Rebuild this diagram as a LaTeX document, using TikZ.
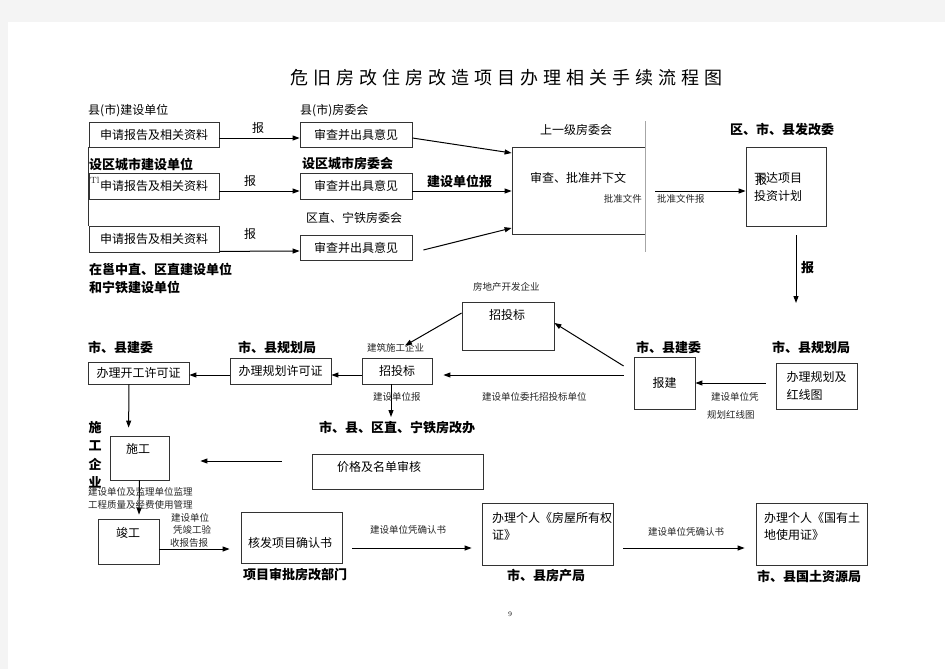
\documentclass[tikz,border=0pt]{standalone}
\usepackage{fontspec}
\newfontfamily\cjk{Noto Sans CJK SC}
\usetikzlibrary{arrows.meta}
\definecolor{pagebg}{HTML}{F4F4F4}

\tikzset{
  box/.style={draw=black!80, line width=0.8pt, inner sep=0pt, align=left, font=\cjk\fontsize{12}{18}\selectfont},
  tag/.style={inner sep=0pt, anchor=west, font=\cjk\fontsize{12}{14}\selectfont},
  lbl/.style={inner sep=0pt, anchor=west, font=\cjk\bfseries\fontsize{13}{15}\selectfont},
  note/.style={inner sep=0pt, anchor=west, text=black!85, font=\cjk\fontsize{9.5}{11}\selectfont},
  arr/.style={-{Triangle[length=7pt,width=5pt]}, line width=1pt},
}

\begin{document}
\begin{tikzpicture}[x=1pt,y=-1pt]
            % Page and margins
            \fill[pagebg] (0,0) rectangle (945,669);
            \fill[white] (8,22) rectangle (945,669);
            \useasboundingbox (0,0) rectangle (945,669);

            % Title
            \node[inner sep=0pt, anchor=west, font={\cjk\fontsize{18}{20}\selectfont\addfontfeature{LetterSpace=28}}] (title) at (290,78) {危旧房改住房改造项目办理相关手续流程图};

            % Three applicants and their housing committees
            \node[tag] (unit1) at (88,111) {县(市)建设单位};
            \node[box, minimum width=130, minimum height=25] (apply1) at (154,134.5) {申请报告及相关资料};
            \node[tag] (comm1) at (300,111) {县(市)房委会};
            \node[box, minimum width=112, minimum height=25] (check1) at (356,134.5) {审查并出具意见};

            \node[lbl] (unit2) at (89,164) {设区城市建设单位};
            \node[box, minimum width=130, minimum height=26] (apply2) at (154,186) {申请报告及相关资料};
            \node[note, font=\fontsize{9}{10}\selectfont] (tl) at (90,180) {Tl};
            \node[lbl] (comm2) at (302,164) {设区城市房委会};
            \node[box, minimum width=112, minimum height=26] (check2) at (356,186) {审查并出具意见};

            \node[box, minimum width=130, minimum height=26] (apply3) at (154,239) {申请报告及相关资料};
            \node[tag] (comm3) at (306,218) {区直、宁铁房委会};
            \node[box, minimum width=112, minimum height=25] (check3) at (356,247.5) {审查并出具意见};
            \node[lbl] (unit3a) at (89,269) {在邕中直、区直建设单位};
            \node[lbl] (unit3b) at (89,287) {和宁铁建设单位};

            \draw[black!80, line width=0.8pt] (apply1.south west) -- (apply3.north west);

            \draw[arr] ([yshift=-3.5]apply1.east) -- ([yshift=-3.5]check1.west);
            \draw[arr] ([yshift=-5]apply2.east) -- ([yshift=-5]check2.west);
            \draw[arr] ([yshift=1]apply3.south east) -- ([yshift=-3.5]check3.west);
            \node[tag, anchor=center] (bao1) at (258,128) {报};
            \node[tag, anchor=center] (bao2) at (250,181) {报};
            \node[tag, anchor=center] (bao3) at (250,234) {报};

            % Upper committee
            \node[tag] (upper) at (540,130) {上一级房委会};
            \node[box, minimum width=133, minimum height=87] (approve) at (578.5,190.5) {};
            \node[tag, anchor=center] (approvet) at (578,178) {审查、批准并下文};
            \coordinate (g1) at (645,121);
            \coordinate (g2) at (645,252);
            \draw[gray!70, line width=0.8pt] (g1) -- (g2);
            \node[note, anchor=east] (doc1) at (642,199) {批准文件};

            \draw[arr] ([yshift=-3.5]check1.east) -- ([yshift=37.5]approve.west);
            \draw[arr] ([yshift=-5]check2.east) -- ([yshift=-0.5]approve.west);
            \draw[arr] ([xshift=11,yshift=-2.5]check3.east) -- ([yshift=-37.5]approve.west);
            \node[lbl] (jsb) at (427,181) {建设单位报};

            % Development and reform commission
            \node[lbl] (fgwl) at (730,130) {区、市、县发改委};
            \node[box, minimum width=80, minimum height=79] (plan) at (786,186.5) {};
            \node[tag] (plant1) at (754,178) {下达项目};
            \node[tag] (plant2) at (754,196) {投资计划};
            \node[tag, anchor=center] (planbao) at (761,180) {报};
            \draw[arr] ([xshift=10,yshift=-0.5]approve.east) -- ([yshift=-4.5]plan.west);
            \node[note] (doc2) at (657,199) {批准文件报};

            \coordinate (planend) at (796,303);
            \draw[arr] ([xshift=10,yshift=-9]plan.south) -- (planend);
            \node[lbl] (bao4) at (801,268) {报};

            % Planning, registration and tendering
            \node[lbl] (ghj1) at (772,347) {市、县规划局};
            \node[box, minimum width=81, minimum height=46] (redline) at (816.5,386) {办理规划及\\红线图};
            \node[lbl] (jw1) at (636,347) {市、县建委};
            \node[box, minimum width=61, minimum height=52] (baojian) at (664.5,383) {报建};
            \draw[arr] ([xshift=-10,yshift=3]redline.west) -- (baojian.east);
            \node[note] (n1) at (711,397) {建设单位凭};
            \node[note] (n2) at (707,415) {规划红线图};

            \node[note] (dev) at (473,287) {房地产开发企业};
            \node[box, minimum width=92, minimum height=48] (tenderA) at (508,326) {};
            \node[tag, anchor=center] (tenderAt) at (507,315) {招投标};
            \node[box, minimum width=70, minimum height=26] (tenderB) at (397,371) {招投标};
            \node[note] (builder) at (367,348) {建筑施工企业};

            \draw[arr] ([xshift=-10,yshift=17]baojian.west) -- ([yshift=3]tenderA.east);
            \draw[arr] ([xshift=-10,yshift=8]baojian.west) -- ([xshift=11,yshift=-4]tenderB.east);
            \node[note] (n3) at (482,397) {建设单位委托招投标单位};
            \draw[arr] ([yshift=13]tenderA.west) -- ([xshift=8,yshift=12]tenderB.north);

            \node[lbl] (ghj2) at (238,347) {市、县规划局};
            \node[box, minimum width=101, minimum height=26] (permitA) at (280.5,371) {办理规划许可证};
            \node[lbl] (jw2) at (88,347) {市、县建委};
            \node[box, minimum width=101, minimum height=22] (permitB) at (138.5,373) {办理开工许可证};
            \draw[arr] ([yshift=-4]tenderB.west) -- ([yshift=-4]permitA.east);
            \draw[arr] ([yshift=-4]permitA.west) -- ([yshift=-2]permitB.east);

            \coordinate (tenderend) at (391,417);
            \draw[arr] ([xshift=-6]tenderB.south) -- (tenderend);
            \node[note] (n4) at (373,397) {建设单位报};
            \node[lbl] (fgb) at (319,428) {市、县、区直、宁铁房改办};

            % Construction and completion
            \foreach \c [count=\i from 0] in {施,工,企,业}
              \node[lbl, anchor=center] (sgqy\i) at (95,428+18*\i) {\c};
            \node[box, minimum width=59, minimum height=44] (build) at (139.5,458) {};
            \node[tag, anchor=center] (buildt) at (138,449) {施工};
            \draw[arr] ([xshift=-9.5]permitB.south) -- ([xshift=19,yshift=8]build.north west);

            \node[box, minimum width=171, minimum height=35] (price) at (397.5,471.5) {};
            \node[tag, anchor=center] (pricet) at (379,467) {价格及名单审核};
            \draw[arr] ([xshift=-30,yshift=10.5]price.west) -- ([xshift=31,yshift=-3]build.east);

            \node[box, minimum width=61, minimum height=45] (done) at (128.5,541.5) {};
            \node[tag, anchor=center] (donet) at (128,533) {竣工};
            \draw[arr] (build.south) -- ([xshift=10.5,yshift=4]done.north);
            \node[note] (n5) at (88,492) {建设单位及监理单位监理};
            \node[note] (n6) at (88,505) {工程质量及经费使用管理};

            \node[box, minimum width=101, minimum height=51] (confirm) at (291.5,537.5) {};
            \node[tag, anchor=center] (confirmt) at (290,543) {核发项目确认书};
            \node[lbl] (xmsp) at (243,575) {项目审批房改部门};
            \draw[arr] ([yshift=-7.5]done.east) -- ([xshift=-11,yshift=-11.5]confirm.west);
            \node[note] (n7) at (171,518) {建设单位};
            \node[note] (n8) at (173,530) {凭竣工验};
            \node[note] (n9) at (170,543) {收报告报};

            % Certificates
            \node[box, minimum width=131, minimum height=62] (house) at (547.5,534) {};
            \node[tag, align=left, font=\cjk\fontsize{12}{17}\selectfont] (houset) at (492,526.5) {办理个人《房屋所有权\\证》};
            \node[lbl] (fcj) at (507,576) {市、县房产局};
            \draw[arr] ([xshift=10,yshift=-10.5]confirm.east) -- ([xshift=-10,yshift=-14]house.west);
            \node[note] (n10) at (370,530) {建设单位凭确认书};

            \node[box, minimum width=111, minimum height=62] (land) at (811.5,534) {};
            \node[tag, align=left, font=\cjk\fontsize{12}{17}\selectfont] (landt) at (764,526.5) {办理个人《国有土\\地使用证》};
            \node[lbl] (gtj) at (757,576) {市、县国土资源局};
            \draw[arr] ([xshift=10,yshift=-14]house.east) -- ([xshift=-11,yshift=-14]land.west);
            \node[note] (n11) at (648,532) {建设单位凭确认书};

            % Page number
            \node[inner sep=0pt, font=\fontsize{7}{8}\selectfont] (page) at (510,614) {9};
\end{tikzpicture}
\end{document}
